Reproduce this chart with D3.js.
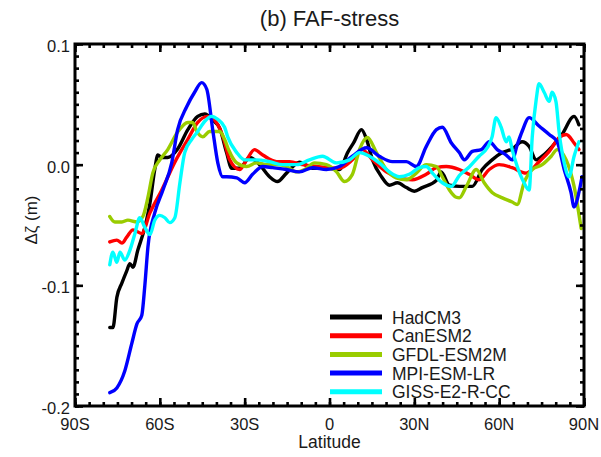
<!DOCTYPE html>
<html>
<head>
<meta charset="utf-8">
<script src="https://cdn.jsdelivr.net/npm/d3@7"></script>
<style>
  body { margin: 0; background: #fff; }
  text { font-family: "Liberation Sans", Arial, sans-serif; fill: #1a1a1a; }
</style>
</head>
<body>
<div id="chart"></div>
<script>
// values: [latitude, sea level change (m)]
const hadcm3 = [[-77.7,-0.135],[-76.6,-0.135],[-75.2,-0.11],[-73.4,-0.098],[-71.7,-0.088],[-70.6,-0.082],[-69.5,-0.085],[-67.8,-0.071],[-65.3,-0.052],[-63.5,-0.032],[-61.8,-0.004],[-60.7,0.008],[-59.3,0.006],[-57.2,0.006],[-53.7,0.013],[-50.1,0.029],[-46.6,0.040],[-44.1,0.042],[-41.3,0.037],[-38.8,0.030],[-36.4,0.010],[-34.6,-0.003],[-31.8,-0.003],[-28.2,0.006],[-24.7,0.0],[-21.2,-0.010],[-18.4,-0.014],[-15.2,-0.007],[-10.6,0.002],[-6.0,-0.003],[-1.1,-0.003],[3.5,-0.004],[6.4,0.010],[8.5,0.018],[11.3,0.029],[13.1,0.021],[15.2,0.004],[18.4,-0.010],[21.2,-0.017],[24.0,-0.015],[27.2,-0.019],[30.0,-0.022],[32.8,-0.019],[37.8,-0.013],[39.5,-0.006],[42.4,-0.017],[45.9,-0.018],[50.5,-0.018],[54.0,-0.004],[57.5,0.004],[61.1,0.010],[64.6,0.013],[68.1,0.019],[70.6,0.015],[73.1,0.004],[75.2,0.007],[78.7,0.015],[82.2,0.025],[86.5,0.040],[88.2,0.033]]

const canesm2 = [[-77.7,-0.064],[-75.2,-0.0625],[-73.4,-0.065],[-71.7,-0.060],[-69.5,-0.054],[-66.4,-0.057],[-63.5,-0.040],[-59.3,-0.021],[-54.7,0.002],[-50.1,0.021],[-46.6,0.035],[-43.1,0.040],[-40.0,0.035],[-37.5,0.022],[-35.3,0.004],[-31.8,-0.004],[-29.3,0.004],[-26.5,0.0125],[-23.6,0.008],[-18.7,0.0025],[-14.1,0.0025],[-9.5,0.0],[-4.6,-0.0015],[0.0,-0.0025],[3.5,-0.003],[8.1,0.004],[11.6,0.0125],[15.2,0.004],[20.1,-0.006],[24.7,-0.011],[29.3,-0.0125],[34.2,-0.008],[37.8,-0.0025],[41.3,-0.0015],[45.9,-0.004],[49.4,-0.008],[52.9,-0.0125],[56.5,-0.004],[60.0,0.0],[64.6,-0.0025],[69.5,-0.007],[74.1,0.0025],[77.7,0.011],[81.2,0.0225],[83.7,0.025],[86.5,0.018],[88.2,0.0125]]

const gfdl = [[-77.7,-0.043],[-75.9,-0.0475],[-73.4,-0.0475],[-71.3,-0.046],[-68.1,-0.0475],[-66.0,-0.043],[-64.2,-0.027],[-62.5,-0.007],[-60.0,0.004],[-57.2,0.0125],[-53.7,0.027],[-50.1,0.035],[-48.4,0.035],[-46.9,0.0275],[-44.8,0.023],[-42.4,0.0275],[-38.8,0.0275],[-37.1,0.021],[-35.6,0.012],[-32.8,0.0015],[-29.3,-0.0015],[-25.8,0.0015],[-22.2,0.0],[-18.7,0.0],[-15.2,-0.0015],[-11.6,-0.006],[-8.8,-0.004],[-5.3,0.0015],[-1.1,0.0],[2.5,-0.006],[5.3,-0.014],[8.1,-0.008],[10.6,0.0125],[13.4,0.0225],[16.6,0.010],[20.1,-0.004],[23.6,-0.011],[27.2,-0.0125],[30.7,-0.007],[34.2,0.0],[37.8,-0.0015],[39.9,-0.010],[42.4,-0.021],[44.8,-0.027],[45.9,-0.0275],[48.4,-0.018],[51.9,-0.004],[54.7,-0.015],[57.5,-0.023],[61.1,-0.0275],[64.6,-0.031],[66.4,-0.033],[68.8,-0.015],[71.7,-0.004],[75.2,0.0],[78.4,0.007],[80.5,0.0125],[83.7,0.004],[86.5,-0.018],[89.0,-0.053]]

const mpi = [[-77.7,-0.189],[-75.2,-0.185],[-72.4,-0.171],[-69.9,-0.148],[-68.1,-0.132],[-66.4,-0.125],[-65.3,-0.100],[-64.2,-0.068],[-61.8,-0.040],[-58.9,-0.021],[-55.8,0.0015],[-53.7,0.029],[-50.5,0.048],[-47.7,0.060],[-45.2,0.068],[-43.4,0.0625],[-41.3,0.029],[-39.5,0.0015],[-37.8,-0.010],[-36.4,-0.010],[-32.8,-0.011],[-30.0,-0.015],[-27.2,-0.008],[-23.6,-0.0015],[-20.1,-0.0025],[-15.2,-0.004],[-10.6,-0.006],[-6.0,-0.0025],[-1.1,-0.004],[3.5,-0.0015],[8.1,0.007],[13.1,0.014],[17.6,0.007],[22.2,0.0025],[27.2,0.0025],[30.7,-0.0015],[34.2,0.015],[37.8,0.029],[39.9,0.031],[43.1,0.018],[45.9,0.010],[47.7,0.004],[50.5,0.011],[53.7,0.0125],[56.5,0.019],[59.3,0.0125],[62.5,0.008],[64.6,0.004],[66.4,0.0165],[68.1,0.0275],[70.6,0.039],[74.1,0.032],[77.7,0.025],[80.5,0.019],[83.0,-0.004],[85.4,-0.023],[86.5,-0.035],[88.2,-0.023],[89.3,-0.010]]

const giss = [[-77.7,-0.083],[-76.6,-0.0725],[-75.2,-0.081],[-74.1,-0.0725],[-72.4,-0.079],[-70.6,-0.071],[-68.8,-0.057],[-67.1,-0.044],[-65.3,-0.052],[-63.5,-0.058],[-61.8,-0.046],[-60.0,-0.042],[-58.2,-0.044],[-56.5,-0.048],[-54.7,-0.044],[-52.9,-0.015],[-51.2,0.010],[-48.7,0.021],[-46.6,0.0275],[-44.1,0.036],[-41.7,0.040],[-39.5,0.0375],[-37.1,0.031],[-36.0,0.023],[-32.8,0.010],[-30.0,0.004],[-25.8,0.004],[-21.2,0.0025],[-16.6,0.0],[-11.6,0.0],[-7.1,0.004],[-2.5,0.007],[2.5,0.0015],[7.1,0.004],[10.6,0.010],[14.1,0.007],[17.6,0.0015],[21.2,-0.006],[24.7,-0.010],[28.2,-0.008],[31.8,-0.0025],[34.2,-0.0015],[36.4,-0.007],[39.9,-0.015],[43.1,-0.018],[45.9,-0.009],[49.4,-0.002],[52.9,0.007],[55.8,0.014],[57.5,0.023],[58.9,0.039],[60.7,0.031],[62.5,0.019],[63.5,0.023],[64.6,0.0125],[66.4,-0.0015],[68.8,-0.015],[70.6,-0.021],[71.7,0.023],[73.1,0.054],[74.1,0.067],[75.9,0.060],[77.7,0.0525],[78.7,0.060],[80.1,0.052],[81.2,0.027],[83.0,0.0015],[84.7,-0.010],[86.5,0.007],[88.2,0.019]]

const models = ["HadCM3", "CanESM2", "GFDL-ESM2M", "MPI-ESM-LR", "GISS-E2-R-CC"]
const modelData = [hadcm3, canesm2, gfdl, mpi, giss]
const modelColors = ["#000000", "#ff0000", "#99cc00", "#0000ff", "#00ffff"]

const xTicks = [-90, -60, -30, 0, 30, 60, 90]
const xTickLabels = ["90S", "60S", "30S", "0", "30N", "60N", "90N"]
const yTicks = [0.1, 0.0, -0.1, -0.2]
const yTickLabels = ["0.1", "0.0", "-0.1", "-0.2"]

// ----------------------------------------------------------
const width = 601
const height = 457
const margin = { top: 44, bottom: 51, left: 75, right: 17 }
const w = width - margin.left - margin.right
const h = height - margin.top - margin.bottom

const svg = d3.select("div#chart").append("svg").attr("width", width).attr("height", height)

const x = d3.scaleLinear().domain([-90, 90]).range([0, w])
const y = d3.scaleLinear().domain([-0.2, 0.1]).range([h, 0])

const g = svg.append("g").attr("transform", `translate(${margin.left},${margin.top})`)

g.append("clipPath").attr("id", "clip")
    .append("rect").attr("width", w).attr("height", h)

const line = d3.line()
    .x(d => x(d[0]))
    .y(d => y(d[1]))
    .curve(d3.curveMonotoneX)

const lines = g.append("g").attr("clip-path", "url(#clip)")
modelData.forEach((data, i) => {
    lines.append("path")
        .datum(data)
        .attr("d", line)
        .attr("fill", "none")
        .attr("stroke", modelColors[i])
        .attr("stroke-width", 3.4)
        .attr("stroke-linejoin", "round")
        .attr("stroke-linecap", "round")
})

// axes: ticks inward on all four sides, minor every 5 deg / 0.01 m
const minorX = d3.range(-90, 90.1, 5)
const minorY = d3.range(-0.2, 0.1001, 0.01)

const bottomAxis = d3.axisBottom(x).tickValues(minorX).tickSize(-4).tickFormat("")
const topAxis = d3.axisTop(x).tickValues(minorX).tickSize(-4).tickFormat("")
const leftAxis = d3.axisLeft(y).tickValues(minorY).tickSize(-4).tickFormat("")
const rightAxis = d3.axisRight(y).tickValues(minorY).tickSize(-4).tickFormat("")

const axisG = g.append("g").attr("class", "axisG")
axisG.append("g").attr("transform", `translate(0,${h})`).call(bottomAxis)
axisG.append("g").call(topAxis)
axisG.append("g").call(leftAxis)
axisG.append("g").attr("transform", `translate(${w},0)`).call(rightAxis)

axisG.append("g").attr("transform", `translate(0,${h})`)
    .call(d3.axisBottom(x).tickValues(xTicks).tickSize(-8).tickFormat(""))
axisG.append("g").call(d3.axisTop(x).tickValues(xTicks).tickSize(-8).tickFormat(""))
axisG.append("g").call(d3.axisLeft(y).tickValues(yTicks).tickSize(-8).tickFormat(""))
axisG.append("g").attr("transform", `translate(${w},0)`)
    .call(d3.axisRight(y).tickValues(yTicks).tickSize(-8).tickFormat(""))

axisG.selectAll(".domain").remove()
axisG.selectAll(".tick line").attr("stroke", "#000").attr("stroke-width", 2.6)

g.append("rect")
    .attr("width", w).attr("height", h)
    .attr("fill", "none").attr("stroke", "#000").attr("stroke-width", 3)

// tick labels
g.selectAll(".xlab").data(xTicks).enter().append("text")
    .attr("class", "xlab")
    .attr("x", d => x(d))
    .attr("y", h + 24)
    .attr("text-anchor", "middle")
    .style("font-size", "16.5px")
    .text((d, i) => xTickLabels[i])

g.selectAll(".ylab").data(yTicks).enter().append("text")
    .attr("class", "ylab")
    .attr("x", -5)
    .attr("y", d => y(d) + 8)
    .attr("text-anchor", "end")
    .style("font-size", "16.5px")
    .text((d, i) => yTickLabels[i])

// titles
svg.append("text")
    .attr("x", margin.left + w / 2)
    .attr("y", 26)
    .attr("text-anchor", "middle")
    .style("font-size", "22px")
    .text("(b) FAF-stress")

svg.append("text")
    .attr("x", margin.left + w / 2)
    .attr("y", 448)
    .attr("text-anchor", "middle")
    .style("font-size", "17.5px")
    .text("Latitude")

svg.append("text")
    .attr("transform", "translate(37,220) rotate(-90)")
    .attr("text-anchor", "middle")
    .style("font-size", "17px")
    .text("Δζ (m)")

// legend
const legend = g.append("g").attr("transform", `translate(${330 - margin.left},${317 - margin.top})`)
models.forEach((m, i) => {
    const row = legend.append("g").attr("transform", `translate(0,${i * 18.7})`)
    row.append("line")
        .attr("x1", 0).attr("x2", 52)
        .attr("stroke", modelColors[i]).attr("stroke-width", 5)
    row.append("text")
        .attr("x", 62).attr("y", 6.5)
        .style("font-size", "17.5px")
        .text(m)
})
</script>
</body>
</html>
